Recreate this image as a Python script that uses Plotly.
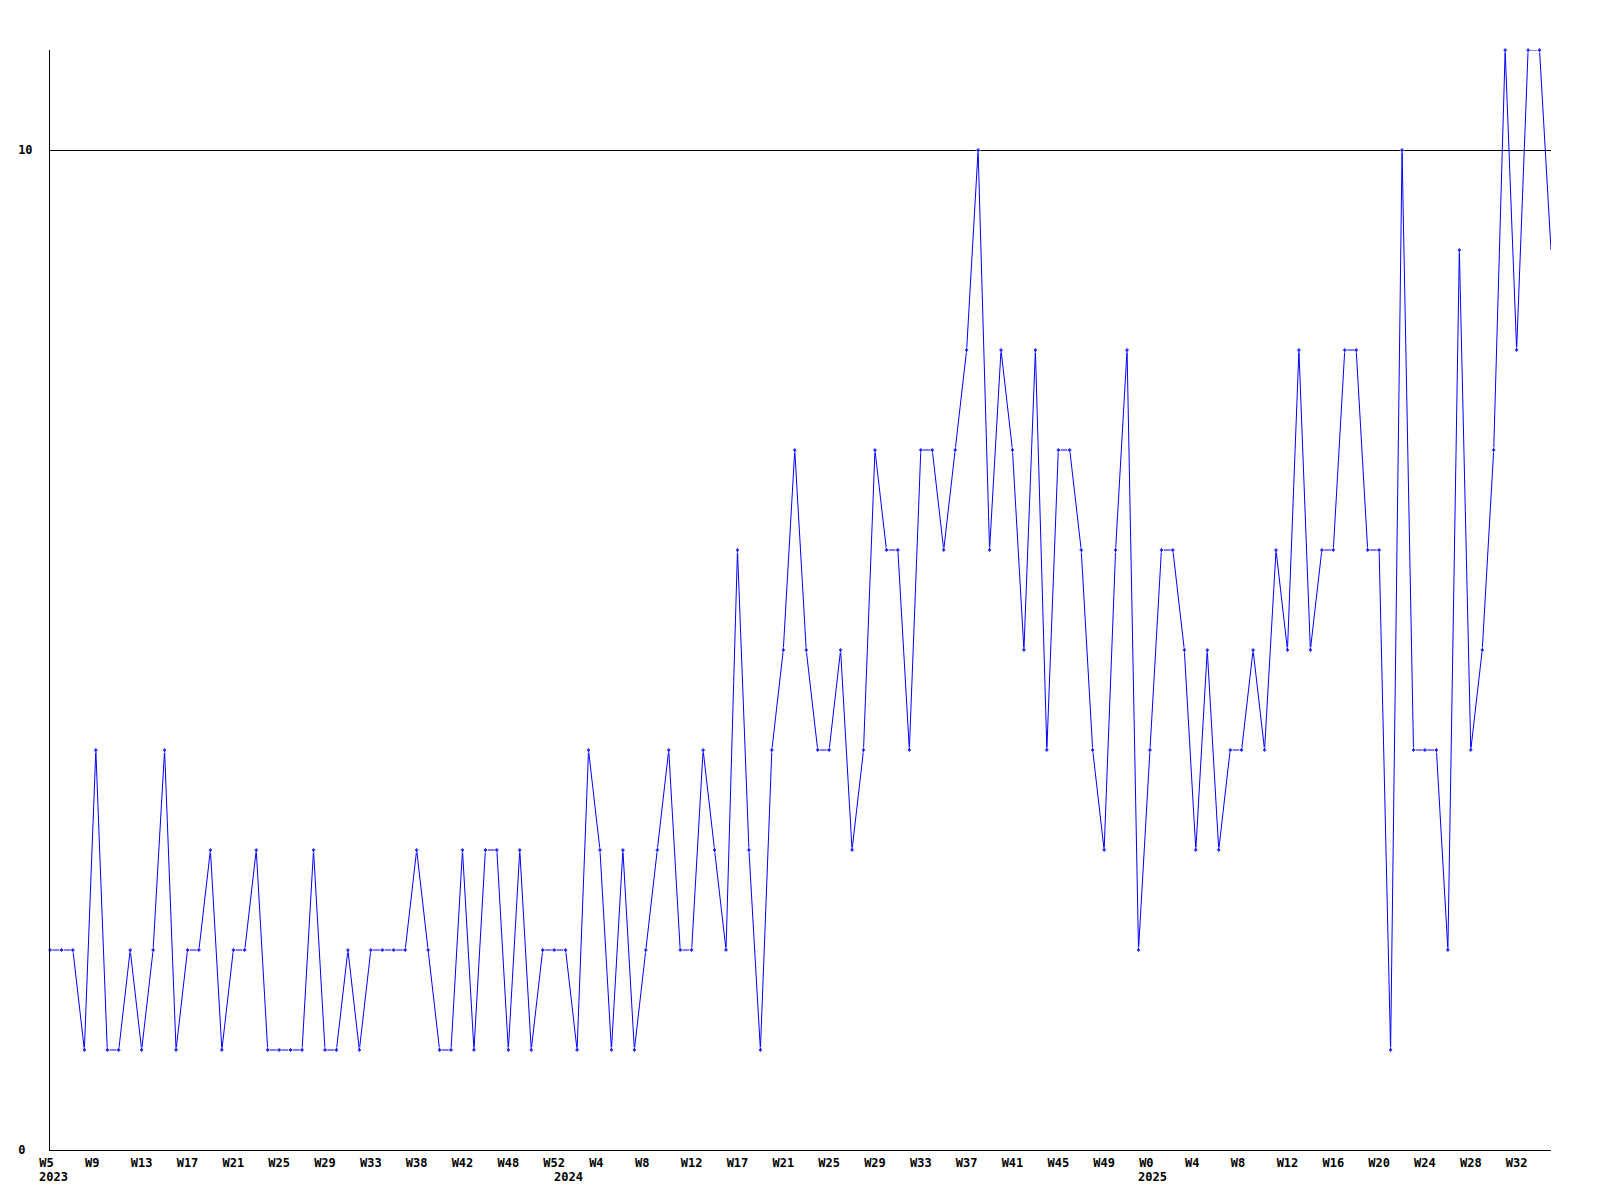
import plotly.graph_objects as go

# Weekly values (one per week, W5 2023 .. W33 2025)
values = [
    2, 2, 2, 1, 4, 1, 1, 2, 1, 2, 4, 1, 2, 2, 3, 1, 2, 2, 3, 1,
    1, 1, 1, 3, 1, 1, 2, 1, 2, 2, 2, 2, 3, 2, 1, 1, 3, 1, 3, 3,
    1, 3, 1, 2, 2, 2, 1, 4, 3, 1, 3, 1, 2, 3, 4, 2, 2, 4, 3, 2,
    6, 3, 1, 4, 5, 7, 5, 4, 4, 5, 3, 4, 7, 6, 6, 4, 7, 7, 6, 7,
    8, 10, 6, 8, 7, 5, 8, 4, 7, 7, 6, 4, 3, 6, 8, 2, 4, 6, 6, 5,
    3, 5, 3, 4, 4, 5, 4, 6, 5, 8, 5, 6, 6, 8, 8, 6, 6, 1, 10, 4,
    4, 4, 2, 9, 4, 5, 7, 11, 8, 11, 11, 9,
]

# Week tick labels (every 4th point)
week_labels = [
    "W5", "W9", "W13", "W17", "W21", "W25", "W29", "W33", "W38", "W42",
    "W48", "W52", "W4", "W8", "W12", "W17", "W21", "W25", "W29", "W33",
    "W37", "W41", "W45", "W49", "W0", "W4", "W8", "W12", "W16", "W20",
    "W24", "W28", "W32",
]
week_positions = [i * 4 for i in range(len(week_labels))]

# Year labels and the point index where each year starts
year_labels = ["2023", "2024", "2025"]
year_positions = [0, 45, 96]

y_tick_values = [0, 10]
y_tick_text = ["0\u00a0", "10"]

x = list(range(len(values)))
# pad labels to equal width so they sit left-aligned like the original
week_text = [lab.ljust(3, "\u00a0") for lab in week_labels]
marker_sizes = [4] * (len(values) - 1) + [0]

FONT = dict(family="DejaVu Sans Mono", size=12, color="black", weight="bold")

fig = go.Figure()
fig.add_trace(go.Scatter(
    x=x, y=values, mode="lines+markers",
    line=dict(color="#0000FF", width=1),
    marker=dict(symbol="diamond", size=marker_sizes, color="#0000FF"),
    cliponaxis=False,
    hoverinfo="x+y",
))

for lab, pos in zip(year_labels, year_positions):
    fig.add_annotation(
        x=pos, y=0, xref="x", yref="y",
        text=lab, showarrow=False,
        xanchor="center", yanchor="top", yshift=-18, xshift=3,
        font=FONT,
    )

fig.update_layout(
    width=1600, height=1200,
    margin=dict(l=50, r=49, t=50, b=50),
    paper_bgcolor="white", plot_bgcolor="white",
    showlegend=False,
    font=FONT,
)
fig.update_xaxes(
    range=[0, len(values) - 1],
    tickmode="array", tickvals=week_positions, ticktext=week_text,
    showgrid=False, zeroline=False,
    showline=True, linecolor="black", linewidth=1,
    ticks="", tickfont=FONT, tickangle=0,
    ticklabelstandoff=2,
)
fig.update_yaxes(
    range=[0, 11],
    tickmode="array", tickvals=y_tick_values, ticktext=y_tick_text,
    showgrid=True, gridcolor="black", gridwidth=1,
    zeroline=False,
    showline=True, linecolor="black", linewidth=1,
    ticks="", tickfont=FONT,
    ticklabelstandoff=14,
)

fig.write_html(
    "out.html",
    config={"displayModeBar": False},
    post_script="document.body.style.margin='0';",
)
